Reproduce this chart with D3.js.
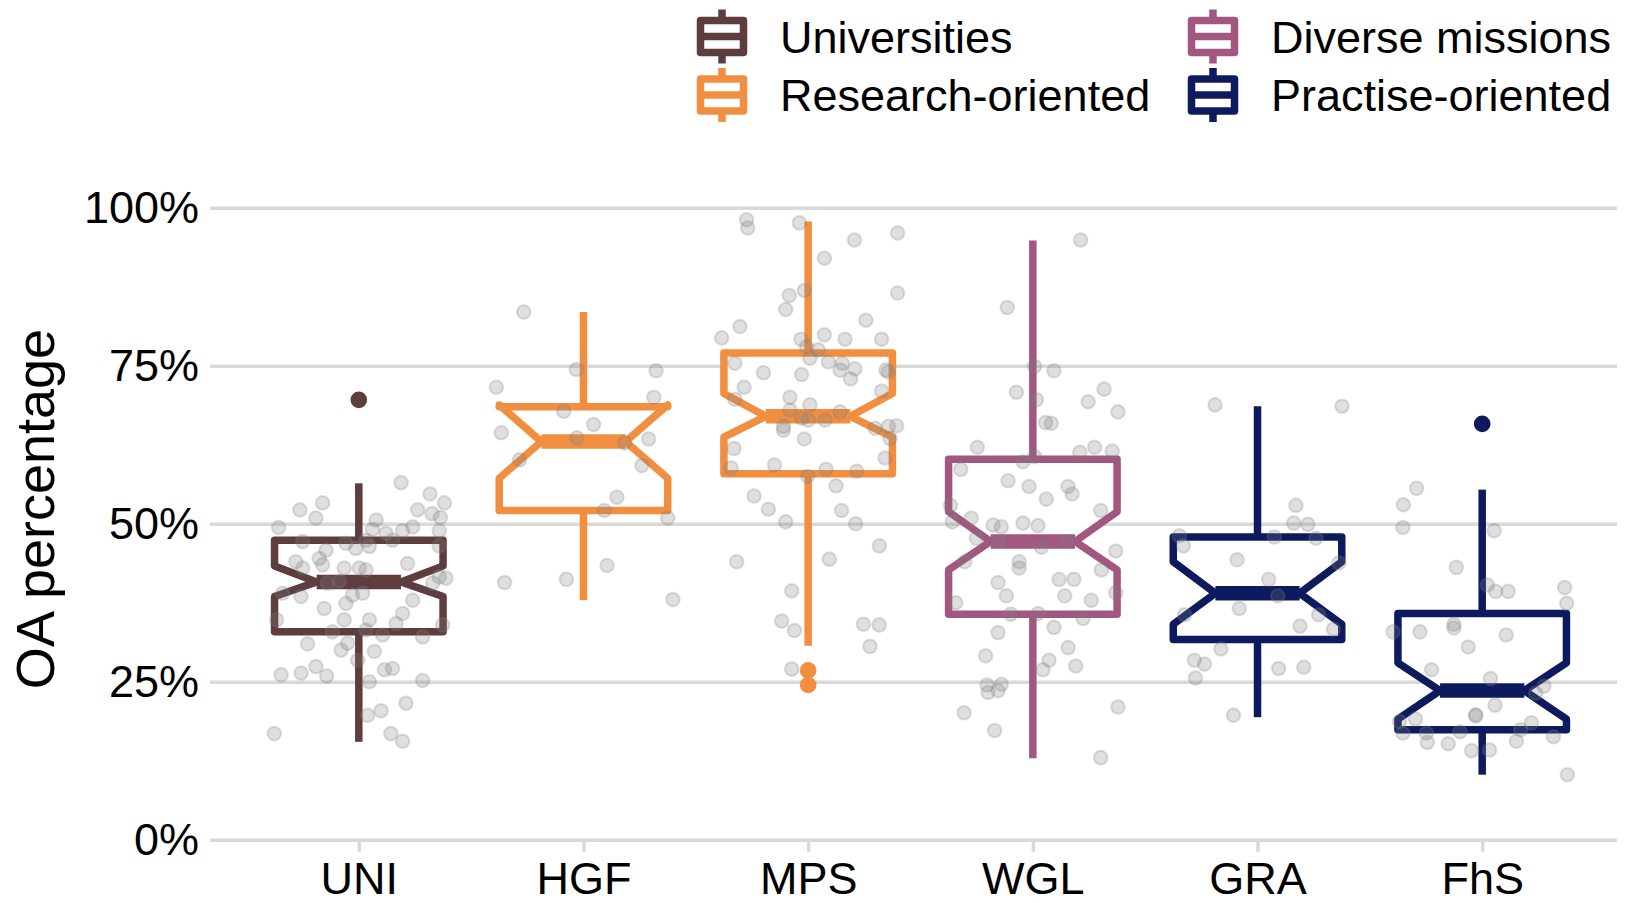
<!DOCTYPE html>
<html lang="en">
<head>
<meta charset="UTF-8" />
<title>OA percentage by institution type</title>
<script src="https://d3js.org/d3.v7.min.js"></script>
<style>
  body { margin: 0; background: #fff; }
  svg { display: block; }
</style>
</head>
<body>
<script>
// ---- data ----
const categories = ["UNI", "HGF", "MPS", "WGL", "GRA", "FhS"];
const categoryType = ["Universities", "Research-oriented", "Research-oriented",
                      "Diverse missions", "Practise-oriented", "Practise-oriented"];
const legendTypes = ["Universities", "Research-oriented", "Diverse missions", "Practise-oriented"];
const yTicks = [0, 25, 50, 75, 100];

// box statistics (percent)
const whiskerLow  = [15.5, 37.9, 30.7, 12.9, 19.4, 10.3];
const q1          = [32.9, 52.1, 57.9, 35.7, 31.7, 17.4];
const notchLow    = [38.5, 57.2, 63.7, 42.7, 34.1, 19.1];
const median      = [40.8, 63.0, 67.0, 47.2, 39.0, 23.6];
const notchHigh   = [43.3, 68.8, 70.6, 51.9, 44.0, 28.0];
const q3          = [47.4, 68.5, 77.0, 60.2, 47.9, 35.8];
const whiskerHigh = [56.4, 83.5, 97.8, 94.8, 68.6, 55.4];
const outliers    = [[69.6], [], [26.8, 24.5], [], [], [65.8]];

// jittered observations: value (percent) and horizontal jitter (in category units)
const uniValues = [56.5,54.7,53.3,52.2,50.9,53.3,52.2,51.6,51.0,49.4,
  50.6,49.5,48.9,49.1,48.5,48.9,47.2,46.9,47.4,47.4,
  46.4,46.1,45.8,46.5,44.0,44.5,43.5,43.0,43.0,43.0,
  42.7,43.7,41.6,41.4,40.6,39.0,38.5,40.6,40.9,38.7,
  39.0,37.4,37.9,36.6,35.8,34.8,34.8,34.2,34.8,34.0,
  32.9,33.2,32.4,32.1,31.0,30.0,31.1,29.8,28.4,26.1,
  26.4,27.4,25.9,26.9,27.1,25.0,25.2,21.6,20.4,19.7,
  16.8,16.8,15.6];
const uniJitter = [0.188,0.317,-0.161,-0.262,-0.191,0.381,0.262,0.326,0.363,-0.357,
  0.077,0.240,0.195,0.061,0.121,0.358,-0.250,-0.057,0.032,0.150,
  0.047,-0.014,-0.146,0.358,-0.280,-0.176,-0.161,-0.250,-0.065,0.002,
  0.032,0.217,0.358,0.388,0.329,-0.339,-0.257,-0.139,-0.087,-0.028,
  0.017,-0.057,0.240,-0.154,0.195,-0.065,0.047,0.166,-0.366,0.373,
  -0.117,0.032,0.106,0.284,-0.228,-0.079,-0.050,0.069,-0.005,-0.346,
  -0.257,-0.191,-0.143,0.114,0.150,0.047,0.284,0.210,0.099,0.039,
  -0.376,0.143,0.195];

const hgfValues = [83.5,74.4,74.2,71.6,70.0,67.8,65.7,64.4,63.6,63.4,
  62.8,60.1,59.2,54.2,52.1,50.9,43.4,41.2,40.7,38.0];
const hgfJitter = [-0.266,-0.032,0.323,-0.388,0.313,-0.088,0.045,-0.366,-0.029,0.290,
  0.183,-0.285,0.260,0.149,0.093,0.375,0.105,-0.076,-0.351,0.398];

const mpsValues = [98.1,96.8,97.6,94.9,96.0,92.0,86.9,86.1,83.9,86.5,
  82.2,81.2,79.4,79.2,79.9,79.2,79.2,78.0,77.5,76.2,
  75.6,75.4,74.3,74.5,72.9,75.4,73.9,73.6,74.3,74.0,
  71.6,71.0,69.7,70.0,68.8,68.0,67.7,66.7,66.4,66.4,
  65.4,64.8,65.1,65.4,65.5,63.5,63.4,61.9,60.4,58.8,
  59.3,58.6,58.3,57.5,56.0,54.4,52.3,52.1,50.3,50.0,
  46.5,44.0,44.4,39.4,34.6,33.1,34.1,34.0,30.6,27.0];
const mpsJitter = [-0.274,-0.269,-0.039,0.206,0.398,0.072,-0.017,-0.084,-0.100,0.398,
  0.257,-0.304,-0.385,-0.032,0.072,0.164,0.327,-0.007,0.045,0.008,
  0.090,0.152,0.142,0.208,0.189,-0.326,-0.199,-0.029,0.346,0.357,
  -0.285,0.327,-0.326,-0.081,0.008,-0.081,0.142,-0.029,0.001,0.075,
  -0.110,-0.110,0.298,0.357,0.394,0.364,-0.017,-0.330,0.342,-0.343,
  -0.150,0.080,0.216,-0.002,0.124,-0.241,-0.177,0.149,-0.100,0.211,
  0.317,-0.318,0.094,-0.073,-0.118,-0.061,0.246,0.316,0.275,-0.073];

const wglValues = [94.9,84.2,74.9,74.2,70.8,69.6,71.3,69.3,67.7,66.0,
  65.9,62.1,61.3,62.1,61.5,60.6,59.8,58.6,56.8,55.9,
  55.9,54.7,53.9,52.9,52.1,50.3,50.9,49.8,49.5,50.1,
  49.7,47.7,47.2,47.2,46.3,45.7,44.0,44.0,43.0,42.7,
  40.7,41.2,41.2,38.6,38.6,37.9,39.1,37.5,35.7,35.8,
  35.0,32.8,33.6,30.4,28.4,26.9,27.5,29.1,24.5,24.6,
  23.3,23.6,21.0,20.1,17.3,13.0];
const wglJitter = [0.213,-0.114,0.008,0.094,-0.073,0.016,0.317,0.246,0.379,0.057,
  0.082,-0.247,0.209,0.275,0.353,0.008,-0.044,-0.321,-0.110,-0.017,
  0.157,0.175,0.060,-0.367,0.302,-0.358,-0.274,-0.177,-0.140,-0.044,
  0.023,-0.252,-0.150,0.149,0.038,0.369,-0.303,-0.061,-0.061,0.305,
  -0.155,0.117,0.183,-0.118,0.142,0.260,0.369,-0.343,-0.098,0.023,
  0.224,-0.155,0.094,0.157,0.072,0.045,0.191,-0.210,-0.204,-0.140,
  -0.199,-0.155,0.379,-0.306,-0.170,0.302];

const graValues = [68.8,68.6,52.9,50.1,49.9,48.1,47.9,47.7,46.5,44.3,
  43.8,41.2,38.6,35.6,36.6,35.6,33.8,33.3,30.2,28.4,
  27.8,27.1,27.3,25.6,19.7];
const graJitter = [-0.189,0.376,0.171,0.161,0.224,-0.348,0.075,0.260,-0.330,-0.091,
  0.362,0.050,0.090,-0.325,-0.081,0.272,0.189,0.338,-0.163,-0.281,
  -0.236,0.094,0.206,-0.276,-0.107];

const fhsValues = [55.6,53.0,49.4,48.9,43.1,40.3,39.3,39.3,39.9,37.4,
  32.9,32.9,34.1,33.5,32.4,30.5,26.9,25.5,24.3,23.2,
  21.3,19.8,19.6,19.1,18.7,16.9,16.9,15.4,15.2,17.1,
  15.6,17.4,18.5,16.3,14.1,14.2,10.3];
const fhsJitter = [-0.292,-0.351,-0.353,0.053,-0.115,0.023,0.060,0.116,0.367,0.376,
  -0.397,-0.277,-0.126,-0.126,0.107,-0.062,-0.225,0.037,0.275,0.238,
  0.057,-0.029,-0.029,-0.297,-0.368,-0.353,-0.248,-0.244,-0.151,-0.099,
  0.152,0.171,0.219,0.317,-0.047,0.033,0.379];

const pointValues = [uniValues, hgfValues, mpsValues, wglValues, graValues, fhsValues];
const pointJitter = [uniJitter, hgfJitter, mpsJitter, wglJitter, graJitter, fhsJitter];

// ---- drawing ----
const width = 1626, height = 903;
const font = "'Liberation Sans', Arial, Helvetica, sans-serif";
const left = 224, right = 1617;
const gridLeft = 210;

const svg = d3.select("body").append("svg")
  .attr("width", width).attr("height", height)
  .attr("font-family", font);

const x = d3.scalePoint().domain(categories).range([left, right]).padding(0.6);
const y = d3.scaleLinear().domain([0, 100]).range([839.8, 207.7]);
const color = d3.scaleOrdinal().domain(legendTypes)
  .range(["#5e3d3e", "#f28e3f", "#a1577f", "#0d1a5e"]);

const step = x.step();
const boxW = 0.75 * step;
const notchIn = boxW * 0.25;

// grid + y axis
svg.append("g")
  .attr("transform", `translate(${gridLeft},0)`)
  .call(d3.axisLeft(y).tickValues(yTicks).tickFormat(d => d + "%")
        .tickSize(-(right - gridLeft)).tickPadding(11))
  .call(g => g.select(".domain").remove())
  .call(g => g.attr("font-family", font))
  .call(g => g.selectAll("line").attr("stroke", "#d9d9d9").attr("stroke-width", 3.5))
  .call(g => g.selectAll("text").attr("font-size", 45).attr("fill", "#000"));

// x axis
svg.append("g")
  .attr("transform", `translate(0,${y(0)})`)
  .call(d3.axisBottom(x).tickSize(12).tickPadding(10))
  .call(g => g.select(".domain").remove())
  .call(g => g.attr("font-family", font))
  .call(g => g.selectAll("line").attr("stroke", "#d9d9d9").attr("stroke-width", 3.5))
  .call(g => g.selectAll("text").attr("font-size", 45).attr("fill", "#000"));

// y title
svg.append("text")
  .attr("transform", "translate(54,509) rotate(-90)")
  .attr("text-anchor", "middle")
  .attr("font-size", 54)
  .text("OA percentage");

// boxes
const boxes = svg.append("g");
categories.forEach((c, i) => {
  const cx = x(c);
  const col = color(categoryType[i]);
  const x0 = cx - boxW / 2, x1 = cx + boxW / 2;
  const g = boxes.append("g").attr("stroke", col).attr("stroke-width", 7.5);

  g.append("line").attr("x1", cx).attr("x2", cx).attr("y1", y(q3[i])).attr("y2", y(whiskerHigh[i]));
  g.append("line").attr("x1", cx).attr("x2", cx).attr("y1", y(q1[i])).attr("y2", y(whiskerLow[i]));

  const pts = [
    [x0, y(q3[i])], [x0, y(notchHigh[i])], [x0 + notchIn, y(median[i])],
    [x0, y(notchLow[i])], [x0, y(q1[i])], [x1, y(q1[i])], [x1, y(notchLow[i])],
    [x1 - notchIn, y(median[i])], [x1, y(notchHigh[i])], [x1, y(q3[i])]
  ];
  g.append("path")
    .attr("d", d3.line()(pts) + "Z")
    .attr("fill", "#fff")
    .attr("stroke-linejoin", "round");

  g.append("line")
    .attr("x1", x0 + notchIn).attr("x2", x1 - notchIn)
    .attr("y1", y(median[i])).attr("y2", y(median[i]))
    .attr("stroke-width", 14.5);

  g.selectAll("circle").data(outliers[i]).join("circle")
    .attr("cx", cx).attr("cy", d => y(d)).attr("r", 8.3)
    .attr("stroke", "none").attr("fill", col);
});

// jittered points
const dots = svg.append("g");
categories.forEach((c, i) => {
  const data = pointValues[i].map((v, j) => ({ v, j: pointJitter[i][j] }));
  dots.append("g").selectAll("circle").data(data).join("circle")
    .attr("cx", d => x(c) + d.j * step)
    .attr("cy", d => y(d.v))
    .attr("r", 6.8)
    .attr("fill", "#808080").attr("fill-opacity", 0.25)
    .attr("stroke", "#808080").attr("stroke-opacity", 0.25)
    .attr("stroke-width", 2);
});

// legend
const legend = svg.append("g");
const keyX = [722, 1213], textX = [780, 1271], rowY = [36.5, 95];
legendTypes.forEach((t, i) => {
  const col = Math.floor(i / 2), row = i % 2;
  const k = legend.append("g")
    .attr("transform", `translate(${keyX[col]},${rowY[row]})`)
    .attr("stroke", color(t)).attr("stroke-width", 7.5);
  k.append("line").attr("x1", 0).attr("x2", 0).attr("y1", -27).attr("y2", -16);
  k.append("line").attr("x1", 0).attr("x2", 0).attr("y1", 16).attr("y2", 27);
  k.append("rect").attr("x", -21.5).attr("y", -16).attr("width", 43).attr("height", 32)
    .attr("fill", "#fff").attr("stroke-linejoin", "round");
  k.append("line").attr("x1", -21.5).attr("x2", 21.5).attr("y1", 0).attr("y2", 0);

  legend.append("text")
    .attr("x", textX[col]).attr("y", rowY[row]).attr("dy", "0.36em")
    .attr("font-size", 45)
    .text(t);
});
</script>
</body>
</html>
